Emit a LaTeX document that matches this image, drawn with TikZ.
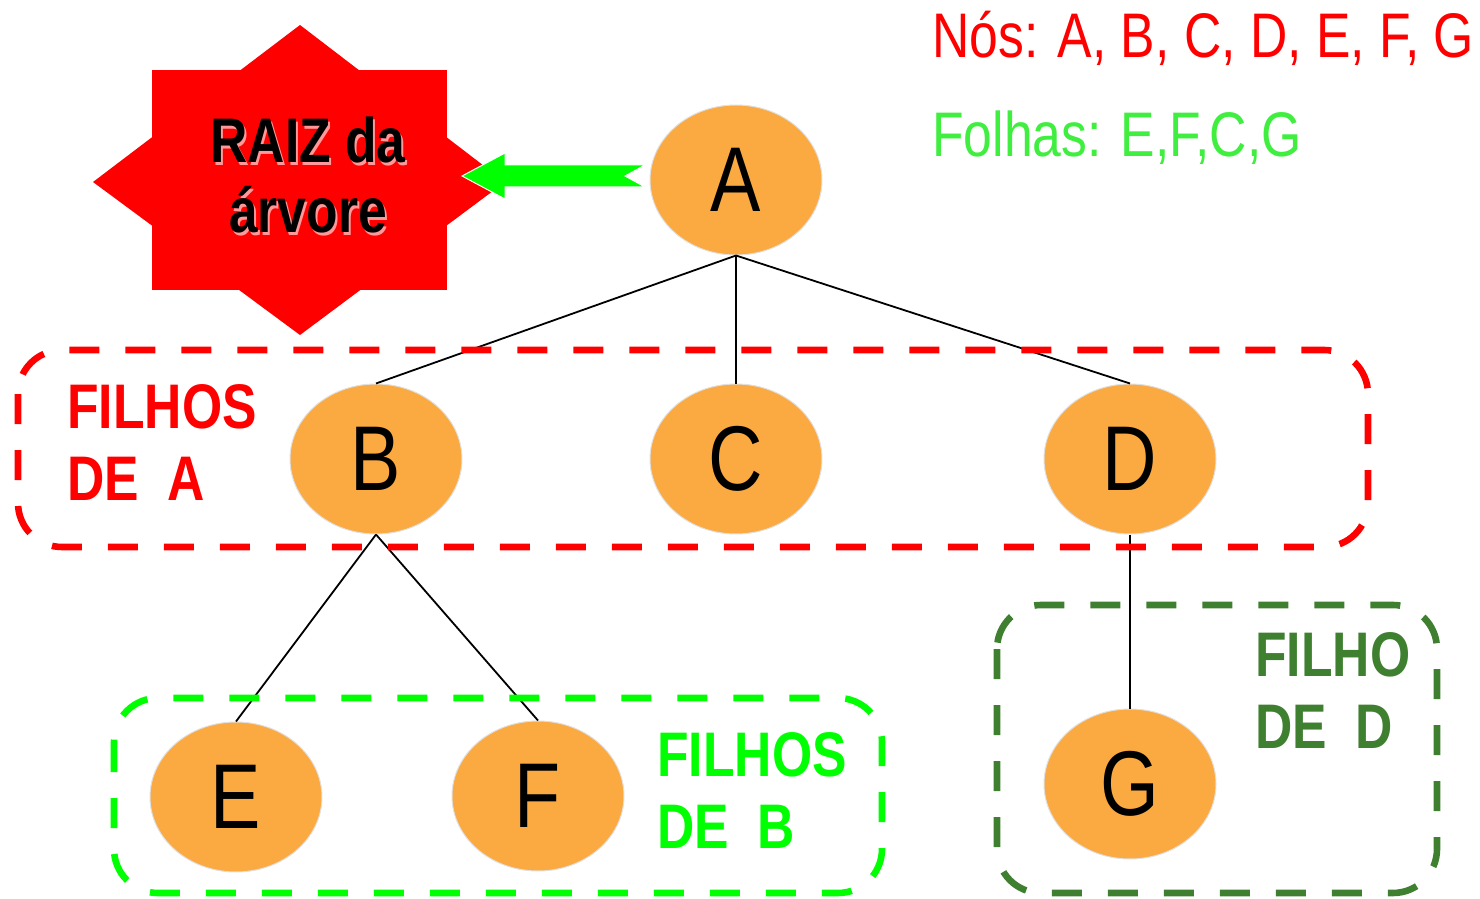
\documentclass[tikz,border=0pt]{standalone}
\usepackage{fontspec}
\setmainfont{Liberation Sans}[FakeStretch=0.82]
\usetikzlibrary{shapes.geometric}
\definecolor{nodeor}{HTML}{FBAA42}
\definecolor{lgreen}{HTML}{00FF00}
\definecolor{fgreen}{HTML}{40EE40}
\definecolor{dgreen}{HTML}{3E7F30}
\definecolor{rred}{HTML}{FF0000}
\begin{document}
\begin{tikzpicture}[x=0.5pt,y=-0.5pt,
  treenode/.style={ellipse, fill=nodeor, draw=black!12, line width=0.5pt,
    minimum width=86pt, minimum height=75pt, inner sep=0pt, font=\fontsize{46}{50}\selectfont},
  edge/.style={line width=0.9pt, black},
  groupbox/.style={line width=3.3pt, dash pattern=on 15pt off 13pt, rounded corners=22pt},
  lbl/.style={anchor=base west, inner sep=0pt, font=\fontsize{31.5}{36}\selectfont\bfseries, align=left}
]
\useasboundingbox (0,0) rectangle (1480,899);
% star
\fill[rred] (152,70) rectangle (447,290);
\fill[rred] (300,25) -- (505,182) -- (300,335) -- (93,182) -- cycle;
\node[anchor=base, inner sep=0pt, text=red!40!white, font=\fontsize{31.5}{35}\selectfont\bfseries, align=center] at (310,235) {RAIZ da\\árvore};
\node[anchor=base, inner sep=0pt, font=\fontsize{31.5}{35}\selectfont\bfseries, align=center] (raiz) at (308,233) {RAIZ da\\árvore};
% arrow
\fill[lgreen, draw=white, line width=0.5pt] (462,176) -- (505,153) -- (505,165) -- (645,165) -- (625,176) -- (645,187) -- (505,187) -- (505,199) -- cycle;
% nodes
\node[treenode] (A) at (736,180) {A};
\node[treenode] (B) at (376,459) {B};
\node[treenode] (C) at (736,459) {C};
\node[treenode] (D) at (1130,459) {D};
\node[treenode] (E) at (236,797) {E};
\node[treenode] (F) at (538,796) {F};
\node[treenode] (G) at (1130,784) {G};
% edges
\draw[edge] (A.south) -- (B.north);
\draw[edge] (A.south) -- (C.north);
\draw[edge] (A.south) -- (D.north);
\draw[edge] (B.south) -- (E.north);
\draw[edge] (B.south) -- (F.north);
\draw[edge] (D.south) -- (G.north);
% boxes
\draw[groupbox, rred] (18,350) rectangle (1368,547);
\draw[groupbox, lgreen] (114,698) rectangle (882,893);
\draw[groupbox, dgreen] (997,605) rectangle (1437,893);
% labels
\node[lbl, text=rred] (la) at (67,500) {FILHOS\\DE\ \ A};
\node[lbl, text=lgreen] (lb) at (657,848) {FILHOS\\DE\ \ B};
\node[lbl, text=dgreen] (ld) at (1255,748) {FILHO\\DE\ \ D};
\node[anchor=base west, inner sep=0pt, text=rred, font=\fontsize{31.5}{36}\selectfont] (nos) at (932,58) {Nós: A, B, C, D, E, F, G};
\node[anchor=base west, inner sep=0pt, text=fgreen, font=\fontsize{31.5}{36}\selectfont] (fol) at (932,157) {Folhas: E,F,C,G};
\end{tikzpicture}
\end{document}
